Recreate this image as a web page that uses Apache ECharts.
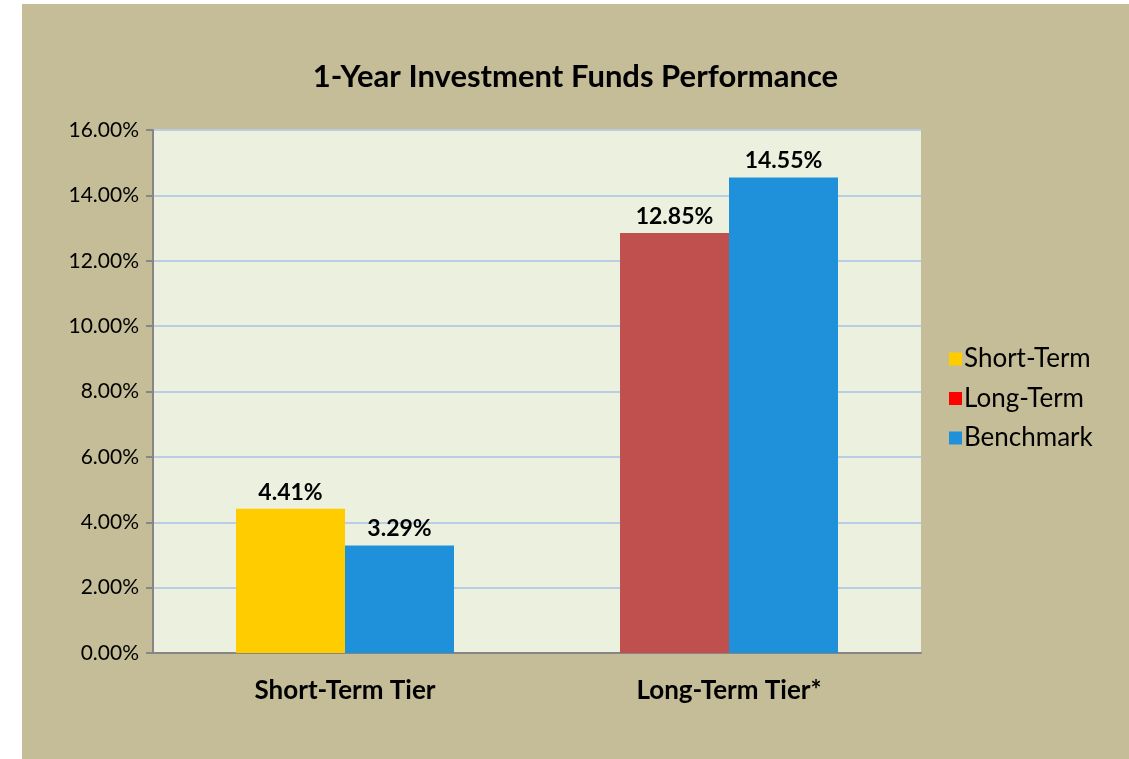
<!DOCTYPE html>
<html>
<head>
<meta charset="utf-8">
<script src="https://cdn.jsdelivr.net/npm/echarts@6/dist/echarts.min.js"></script>
<style>
  html, body { margin: 0; padding: 0; background: #ffffff; }
  #chart { position: absolute; left: 22px; top: 4px; width: 1107px; height: 755px; }
</style>
</head>
<body>
<div id="chart"></div>
<script>
const categories = ['Short-Term Tier', 'Long-Term Tier*'];
const shortTerm = [4.41, null];
const longTerm = [null, 12.85];
const benchmark = [3.29, 14.55];
const yTicks = { min: 0, max: 16, interval: 2 };

const FONT = 'Lato, "Open Sans", sans-serif';

const chart = echarts.init(document.getElementById('chart'));

const barLabel = {
  show: true,
  position: 'top',
  color: '#000',
  fontFamily: FONT,
  fontWeight: 'bold',
  fontSize: 23,
  distance: 5,
  formatter: (p) => p.value.toFixed(2) + '%',
};

chart.setOption({
  backgroundColor: '#C4BD97',
  animation: false,
  title: {
    text: '1-Year Investment Funds Performance',
    left: 'center',
    top: 52,
    textStyle: { fontFamily: FONT, fontWeight: 'bold', fontSize: 31, color: '#000' },
  },
  legend: {
    orient: 'vertical',
    left: 922,
    top: 337,
    itemWidth: 13,
    itemHeight: 13,
    itemGap: 13.5,
    icon: 'rect',
    textStyle: {
      fontFamily: FONT, fontSize: 26, lineHeight: 26, color: '#000', padding: [0, 0, 0, -3],
    },
    data: [
      { name: 'Short-Term', itemStyle: { color: '#FFCC00' } },
      { name: 'Long-Term', itemStyle: { color: '#FF0000' } },
      { name: 'Benchmark', itemStyle: { color: '#1F91DA' } },
    ],
  },
  grid: {
    left: 131,
    right: 208,
    top: 126,
    bottom: 106,
    show: true,
    backgroundColor: '#EBF1DE',
    borderWidth: 0,
  },
  xAxis: {
    type: 'category',
    data: categories,
    axisLine: { lineStyle: { color: '#868686', width: 2 } },
    axisTick: { show: false },
    axisLabel: { fontFamily: FONT, fontWeight: 'bold', fontSize: 26, color: '#000', margin: 25 },
  },
  yAxis: {
    type: 'value',
    min: yTicks.min,
    max: yTicks.max,
    interval: yTicks.interval,
    axisLine: { show: true, lineStyle: { color: '#868686', width: 2 } },
    axisTick: { show: true, length: 7, lineStyle: { color: '#868686', width: 2 } },
    splitLine: { lineStyle: { color: '#B9CDE5', width: 2 } },
    axisLabel: {
      fontFamily: FONT,
      fontSize: 21,
      color: '#000',
      margin: 14,
      formatter: (v) => v.toFixed(2) + '%',
    },
  },
  series: [
    {
      name: 'Short-Term',
      type: 'bar',
      stack: 'tier',
      barWidth: 109,
      barGap: '0%',
      data: shortTerm,
      itemStyle: { color: '#FFCC00' },
      label: barLabel,
    },
    {
      name: 'Long-Term',
      type: 'bar',
      stack: 'tier',
      barWidth: 109,
      barGap: '0%',
      data: longTerm,
      itemStyle: { color: '#C0504D' },
      label: barLabel,
    },
    {
      name: 'Benchmark',
      type: 'bar',
      barWidth: 109,
      barGap: '0%',
      data: benchmark,
      itemStyle: { color: '#1F91DA' },
      label: barLabel,
    },
  ],
});
</script>
</body>
</html>
